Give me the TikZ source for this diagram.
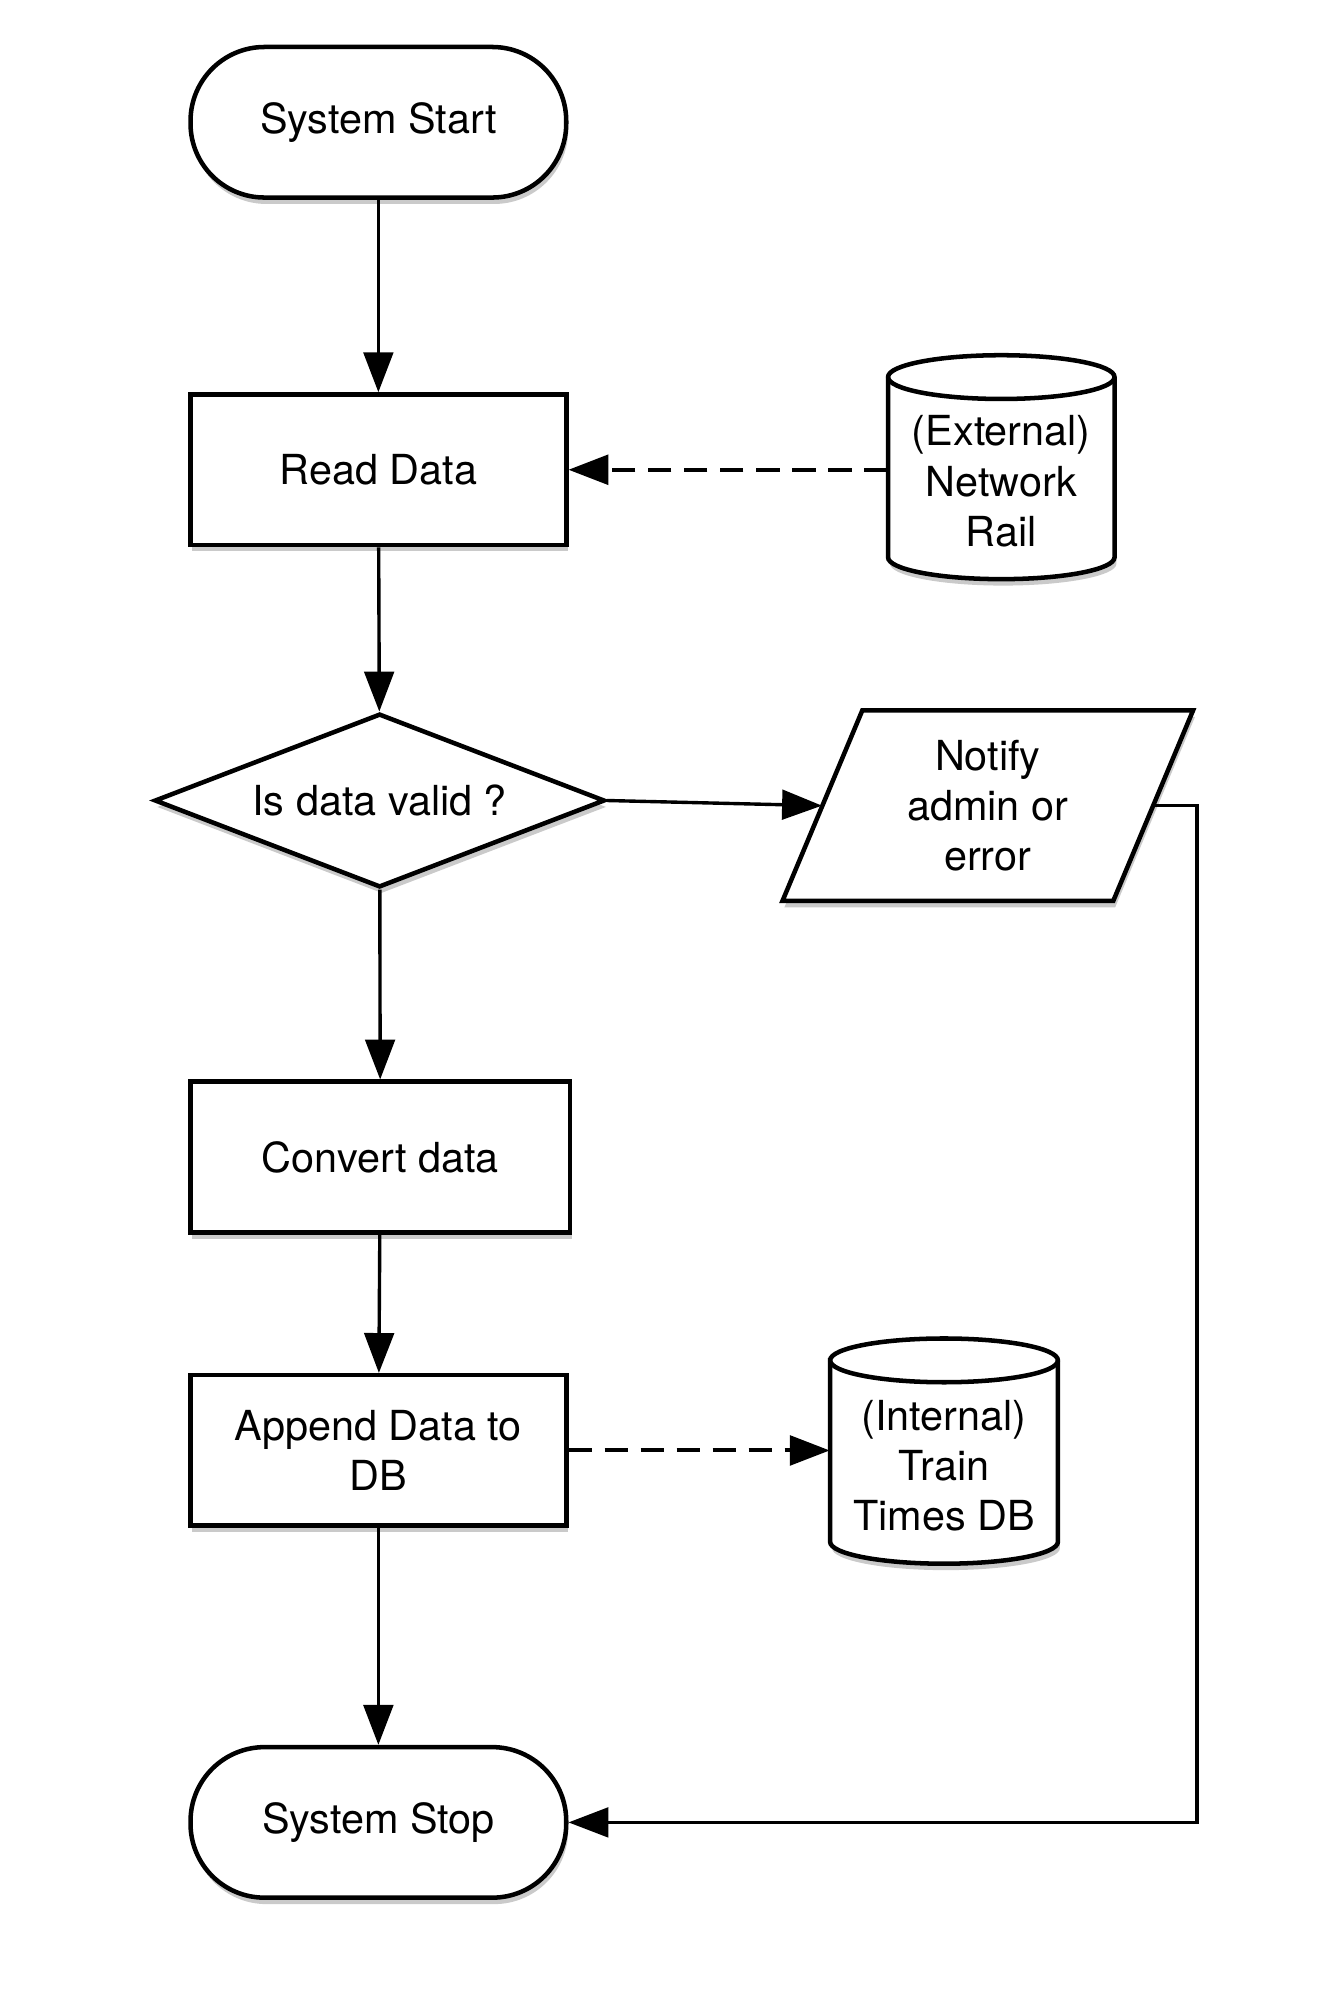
\documentclass[tikz,border=0pt]{standalone}
\usepackage{fontspec}
\setmainfont{TeX Gyre Heros}
\usetikzlibrary{shapes.geometric,shadows,arrows.meta}

\tikzset{
  boxshadow/.style={drop shadow={shadow xshift=0.03cm,shadow yshift=-0.1cm,opacity=0.35,fill=black!60}},
  term/.style={draw,line width=2pt,fill=white,rounded corners=1.15cm,minimum width=5.84cm,minimum height=2.34cm,boxshadow},
  proc/.style={draw,line width=2pt,fill=white,minimum width=5.84cm,minimum height=2.34cm,boxshadow},
  decide/.style={diamond,draw,line width=2pt,fill=white,aspect=2.6,inner sep=0pt,minimum width=7cm,minimum height=2.7cm,boxshadow},
  outline/.style={line width=2pt,fill=white,boxshadow},
  flow/.style={line width=1.5pt,-{Triangle[length=0.62cm,width=0.46cm]}},
  dataflow/.style={flow,line width=1.8pt,dash pattern=on 0.36cm off 0.2cm},
}

\begin{document}
\begin{tikzpicture}[x=0.02cm,y=0.02cm,font=\fontsize{18.3pt}{22.2pt}\selectfont]
\useasboundingbox (0,0) rectangle (1024,-1561);

% drums and the output box
\draw[outline] (690,-293) -- (690,-433) arc[start angle=180,end angle=360,x radius=88,y radius=17] -- (866,-293) arc[start angle=0,end angle=180,x radius=88,y radius=17] -- cycle;
\draw[line width=2pt] (690,-293) arc[start angle=180,end angle=360,x radius=88,y radius=17];
\draw[outline] (645,-1057) -- (645,-1198) arc[start angle=180,end angle=360,x radius=88.5,y radius=17] -- (822,-1057) arc[start angle=0,end angle=180,x radius=88.5,y radius=17] -- cycle;
\draw[line width=2pt] (645,-1057) arc[start angle=180,end angle=360,x radius=88.5,y radius=17];
\draw[outline] (608,-700) -- (670,-552) -- (927,-552) -- (865,-700) -- cycle;

\node[term] (start) at (294,-95) {System Start};
\node[proc] (read) at (294,-365) {Read Data};
\node[align=center,minimum width=3.52cm] (ext) at (778,-374) {(External)\\Network\\Rail};
\node[decide] (valid) at (295,-622) {Is data valid ?};
\node[align=center,minimum width=5.14cm,minimum height=2.96cm] (notify) at (767.5,-626) {Notify\\admin or\\error};
\node[proc,minimum width=5.9cm] (convert) at (295.5,-899) {Convert data};
\node[proc,align=center] (append) at (294,-1127) {Append Data to\\DB};
\node[align=center,minimum width=3.54cm] (int) at (733.5,-1139) {(Internal)\\Train\\Times DB};
\node[term] (stop) at (294,-1416) {System Stop};
\coordinate (turn) at (930,-626);

\draw[flow] (start) -- (read);
\draw[dataflow] (ext.west |- read.east) -- (read.east);
\draw[flow] (read) -- (valid);
\draw[flow] (valid.east) -- (notify.west);
\draw[flow] (valid) -- (convert);
\draw[flow] (convert) -- (append);
\draw[dataflow] (append.east) -- (int.west |- append.east);
\draw[flow] (append) -- (stop);
\draw[flow] (notify.east) -- (turn) |- (stop.east);
\end{tikzpicture}
\end{document}
